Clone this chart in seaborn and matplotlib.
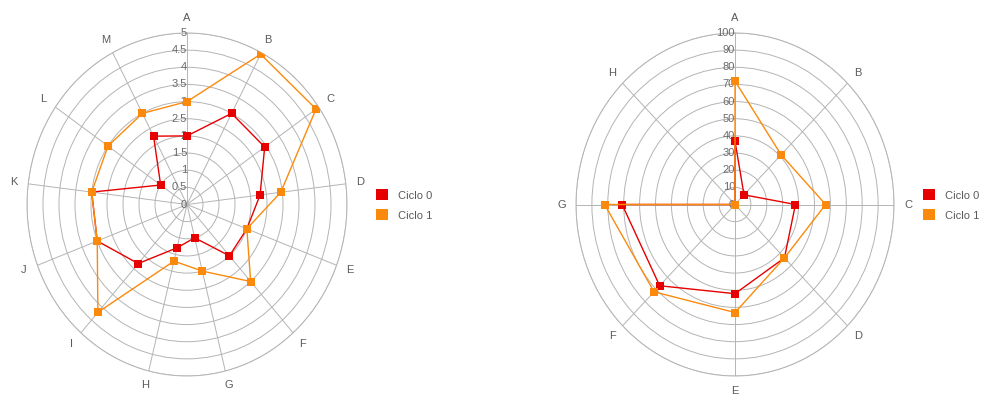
import numpy as np
import pandas as pd
import matplotlib
matplotlib.use("Agg")
import matplotlib.pyplot as plt
import seaborn as sns
from matplotlib.patches import Patch

# ---------------- data ----------------
series_names = ["Ciclo 0", "Ciclo 1"]
series_colors = ["#e60000", "#fb8a0c"]

cats_left = ["A", "B", "C", "D", "E", "F", "G", "H", "I", "J", "K", "L", "M"]
ciclo0_left = [2.0, 3.0, 2.95, 2.3, 2.0, 2.0, 1.0, 1.3, 2.3, 3.0, 3.0, 1.0, 2.25]
ciclo1_left = [3.0, 4.95, 4.9, 2.95, 2.0, 3.0, 2.0, 1.7, 4.2, 3.0, 3.0, 3.0, 3.0]
rticks_left = [0, 0.5, 1, 1.5, 2, 2.5, 3, 3.5, 4, 4.5, 5]
rlabels_left = ["0", "0.5", "1", "1.5", "2", "2.5", "3", "3.5", "4", "4.5", "5"]

cats_right = ["A", "B", "C", "D", "E", "F", "G", "H"]
ciclo0_right = [37, 8, 38, 44, 52, 67, 71, 0]
ciclo1_right = [72, 41, 57, 44, 63, 72, 82, 0]
rticks_right = [0, 10, 20, 30, 40, 50, 60, 70, 80, 90, 100]
rlabels_right = ["0", "10", "20", "30", "40", "50", "60", "70", "80", "90", "100"]

# ---------------- style ----------------
sns.set_theme(style="white")
plt.rcParams["font.family"] = ["Liberation Sans", "DejaVu Sans"]
TEXT = "#5a5a5a"
RTEXT = "#6a6a6a"
GRID = "#b4b4b4"

fig = plt.figure(figsize=(9.81, 3.94), dpi=100)


def radar(rect, cats, s0, s1, rticks, rlabels, legend_x):
    ax = fig.add_axes(rect, projection="polar")
    ax.set_aspect("auto")
    ax.set_theta_zero_location("N")
    ax.set_theta_direction(-1)
    n = len(cats)
    theta = np.linspace(0, 2 * np.pi, n, endpoint=False)

    rows = []
    for name, vals in zip(series_names, [s0, s1]):
        th = list(theta) + [2 * np.pi]
        vv = list(vals) + [vals[0]]
        for t, v in zip(th, vv):
            rows.append({"theta": t, "value": v, "serie": name})
    df = pd.DataFrame(rows)

    sns.lineplot(data=df, x="theta", y="value", hue="serie",
                 palette=dict(zip(series_names, series_colors)),
                 hue_order=series_names, sort=False, estimator=None,
                 marker="s", markersize=6, markeredgewidth=0,
                 linewidth=1.0, legend=False, ax=ax, zorder=5)

    ax.set_ylim(0, rticks[-1])
    ax.set_yticks(rticks)
    ax.set_yticklabels([])
    ax.set_xticks(theta)
    ax.set_xticklabels(cats, fontsize=8, color=TEXT)
    ax.tick_params(axis="x", pad=-2.5)
    ax.grid(True, color=GRID, linewidth=0.7)
    ax.spines["polar"].set_color(GRID)
    ax.spines["polar"].set_linewidth(0.7)
    ax.set_xlabel("")
    ax.set_ylabel("")
    for r, lab in zip(rticks, rlabels):
        ax.text(0, r, lab, ha="right", va="center", fontsize=8,
                color=RTEXT, zorder=3)

    handles = [Patch(facecolor=c, edgecolor="none") for c in series_colors]
    ax.legend(handles, series_names, loc="center left",
              bbox_to_anchor=(legend_x, 1 - 205 / 394),
              bbox_transform=fig.transFigure, frameon=False,
              handlelength=1.05, handleheight=1.1, handletextpad=0.9,
              labelspacing=0.8, borderpad=0, borderaxespad=0,
              fontsize=8, labelcolor=TEXT)
    return ax


W, H = 981, 394
radar([27 / W, (H - 376) / H, 320 / W, 343 / H], cats_left,
      ciclo0_left, ciclo1_left, rticks_left, rlabels_left, 376 / W)
radar([576 / W, (H - 376) / H, 318 / W, 343 / H], cats_right,
      ciclo0_right, ciclo1_right, rticks_right, rlabels_right, 923 / W)

fig.savefig("out.png", dpi=100)
